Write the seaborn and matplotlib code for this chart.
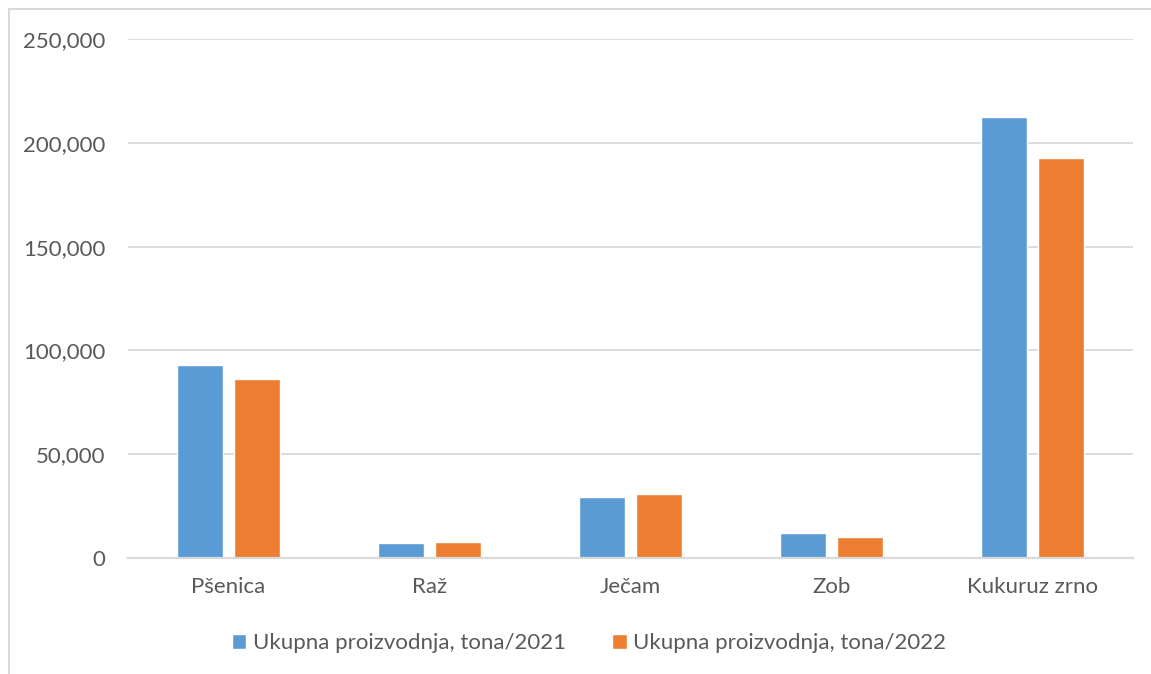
import matplotlib
matplotlib.use("Agg")
import matplotlib.pyplot as plt
import seaborn as sns
import pandas as pd
from matplotlib.patches import Rectangle
from matplotlib.ticker import FuncFormatter

categories = ["Pšenica", "Raž", "Ječam", "Zob", "Kukuruz zrno"]
series_names = ["Ukupna proizvodnja, tona/2021", "Ukupna proizvodnja, tona/2022"]
values_2021 = [93200, 7200, 29600, 12000, 212300]
values_2022 = [86400, 7800, 30900, 10350, 192800]
y_ticks = [0, 50000, 100000, 150000, 200000, 250000]

df = pd.DataFrame({
    "cat": categories * 2,
    "series": [series_names[0]] * 5 + [series_names[1]] * 5,
    "val": values_2021 + values_2022,
})

sns.set_theme(style="white")
plt.rcParams["font.family"] = ["Lato", "DejaVu Sans"]
txt = "#595959"
grid = "#D9D9D9"

W, H = 1151, 674
fig = plt.figure(figsize=(W / 100, H / 100), dpi=100)
ax = fig.add_axes([128 / W, 1 - 558 / H, (1133 - 128) / W, (558 - 39) / H])

sns.barplot(data=df, x="cat", y="val", hue="series", order=categories,
            hue_order=series_names, palette=["#5B9BD5", "#ED7D31"],
            width=0.567, gap=0.21, ax=ax, saturation=1, legend=True)

ax.set_ylim(0, 250000)
ax.set_xlim(-0.5, 4.5)
ax.set_yticks(y_ticks)
ax.yaxis.set_major_formatter(FuncFormatter(lambda v, p: f"{int(v):,}"))
ax.grid(axis="y", color=grid, linewidth=1.3)
ax.set_axisbelow(True)
for s in ["top", "right", "left"]:
    ax.spines[s].set_visible(False)
ax.spines["bottom"].set_color(grid)
ax.spines["bottom"].set_linewidth(1.6)
ax.tick_params(axis="both", length=0, colors=txt, labelsize=16)
ax.tick_params(axis="y", pad=16.5)
ax.tick_params(axis="x", pad=14)
ax.set_xlabel("")
ax.set_ylabel("")

leg = ax.get_legend()
handles = leg.legend_handles
leg.remove()
fig.legend(handles, series_names, loc="center", bbox_to_anchor=(589 / W, 1 - 643 / H),
           ncol=2, frameon=False, fontsize=16, labelcolor=txt,
           handlelength=0.65, handleheight=0.65, handletextpad=0.3, columnspacing=2.1)

fig.patches.append(Rectangle((9 / W, -0.1), 1.2, 1 - 9 / H + 0.1, transform=fig.transFigure,
                             fill=False, edgecolor="#D9D9D9", linewidth=1.5))

fig.savefig("out.png", dpi=100)
